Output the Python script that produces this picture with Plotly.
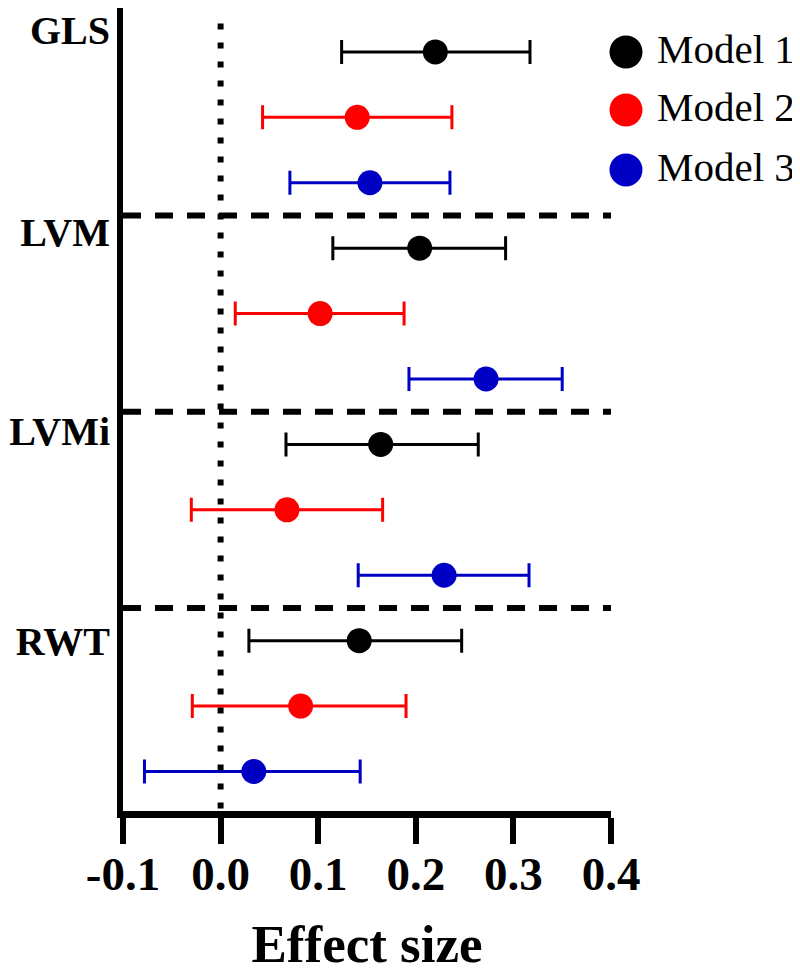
import plotly.graph_objects as go

# ---- data ----
groups = ["GLS", "LVM", "LVMi", "RWT"]
models = ["Model 1", "Model 2", "Model 3"]
colors = ["#000000", "#FF0000", "#0000C4"]

# effect size estimates (rows: groups, cols: models)
estimate = [
    [0.220, 0.140, 0.153],
    [0.204, 0.102, 0.272],
    [0.164, 0.068, 0.229],
    [0.142, 0.082, 0.034],
]
ci_low = [
    [0.124, 0.043, 0.071],
    [0.115, 0.015, 0.193],
    [0.067, -0.030, 0.141],
    [0.029, -0.029, -0.078],
]
ci_high = [
    [0.317, 0.237, 0.235],
    [0.292, 0.188, 0.350],
    [0.264, 0.166, 0.316],
    [0.247, 0.190, 0.143],
]
x_ticks = [-0.1, 0.0, 0.1, 0.2, 0.3, 0.4]
x_tick_text = ["-0.1", "0.0", "0.1", "0.2", "0.3", "0.4"]

FONT = "Liberation Serif, Times New Roman, serif"
n_models = len(models)

fig = go.Figure()
for m, name in enumerate(models):
    ys = [g * n_models + m for g in range(len(groups))]
    xs = [estimate[g][m] for g in range(len(groups))]
    plus = [ci_high[g][m] - estimate[g][m] for g in range(len(groups))]
    minus = [estimate[g][m] - ci_low[g][m] for g in range(len(groups))]
    fig.add_trace(go.Scatter(
        x=xs, y=ys, mode="markers", name=name,
        marker=dict(color=colors[m], size=25, line=dict(width=0)),
        error_x=dict(type="data", array=plus, arrayminus=minus,
                     color=colors[m], thickness=3, width=12),
        showlegend=False,
    ))

# group separators (dashed) and zero reference (dotted)
for g in range(1, len(groups)):
    fig.add_shape(type="line", xref="x", yref="y",
                  x0=x_ticks[0], x1=x_ticks[-1],
                  y0=g * n_models - 0.5, y1=g * n_models - 0.5,
                  line=dict(color="black", width=6, dash="18px,14px"))
fig.add_shape(type="line", xref="x", yref="paper", x0=0, x1=0, y0=0.003, y1=0.995,
              line=dict(color="black", width=6, dash="6px,13px"))

# manual legend with large dots
leg_y = [0.9452, 0.873, 0.7984]
for m, name in enumerate(models):
    fig.add_shape(type="circle", xref="paper", yref="paper",
                  xsizemode="pixel", ysizemode="pixel",
                  xanchor=1.0307, yanchor=leg_y[m],
                  x0=-16.5, x1=16.5, y0=-16.5, y1=16.5,
                  fillcolor=colors[m], line=dict(width=0))
    fig.add_annotation(xref="paper", yref="paper", x=1.09, y=leg_y[m] + 0.004,
                       xanchor="left", yanchor="middle", showarrow=False,
                       text=name, font=dict(family=FONT, size=41, color="black"))

# group labels positions (in row units)
label_rows = [-0.33, 2.76, 5.79, 9.0]

fig.update_layout(
    width=792, height=965,
    margin=dict(l=115, r=189, t=0, b=161.5),
    plot_bgcolor="white", paper_bgcolor="white",
    font=dict(family=FONT, color="black"),
    xaxis=dict(
        range=[x_ticks[0], x_ticks[-1]], tickvals=x_ticks, ticktext=x_tick_text,
        showline=True, linewidth=7, linecolor="black", automargin=False,
        ticks="outside", ticklen=26, tickwidth=6, tickcolor="black",
        tickfont=dict(family=FONT, size=47, color="black", weight="bold"),
        ticklabelstandoff=-10,
        showgrid=False, zeroline=False,
        title=dict(text="<b>Effect size</b>", font=dict(family=FONT, size=53, color="black"),
                   standoff=42),
    ),
    yaxis=dict(
        range=[11.604, -0.672], tickvals=label_rows, ticktext=["<b>%s</b>" % g for g in groups],
        showline=True, linewidth=6, linecolor="black", ticks="", automargin=False,
        tickfont=dict(family=FONT, size=40, color="black"),
        ticklabelstandoff=-1, ticklabeloverflow="allow",
        showgrid=False, zeroline=False,
    ),
)

fig.write_html("out.html")
